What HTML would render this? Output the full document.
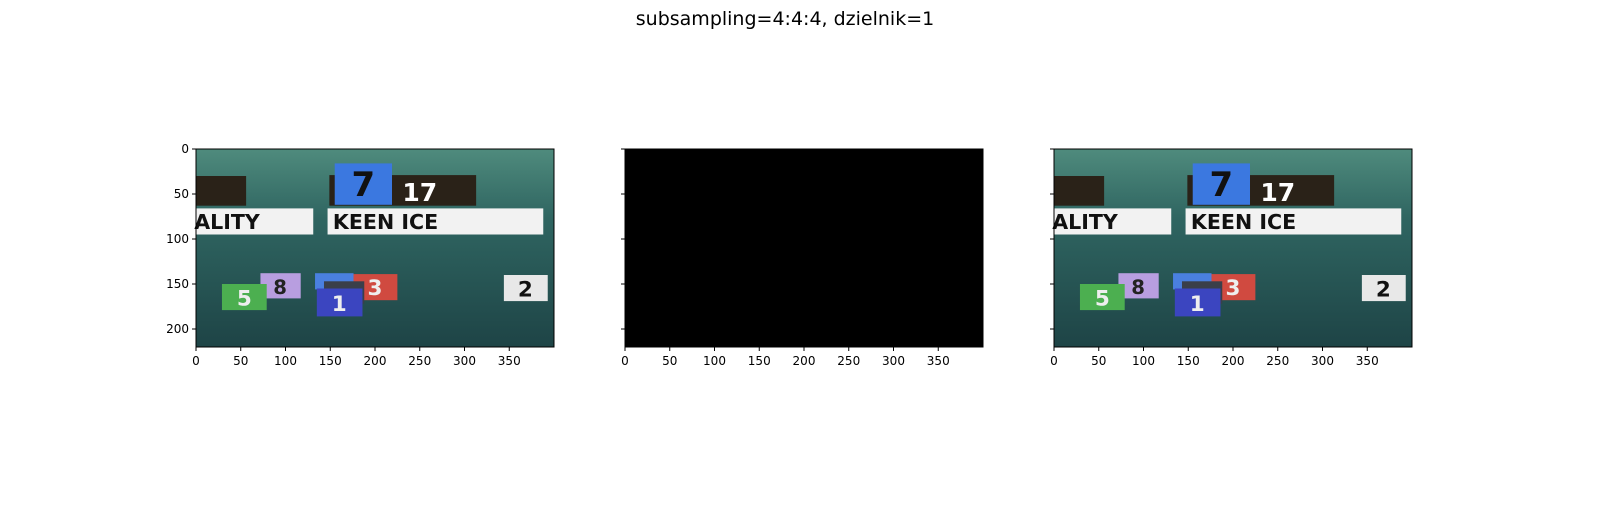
<!DOCTYPE html>
<html><head><meta charset="utf-8"><style>
body{margin:0;background:#fff;width:1600px;height:500px;overflow:hidden;font-family:"Liberation Sans","DejaVu Sans",sans-serif}
svg text{font-family:"DejaVu Sans","Liberation Sans",sans-serif}
</style></head><body>
<svg id="fig" width="1600" height="500" viewBox="0 0 1600 500" xmlns="http://www.w3.org/2000/svg">
<text x="785" y="25" text-anchor="middle" font-size="19" fill="#000">subsampling=4:4:4, dzielnik=1</text>
</svg>
<script>
const xTicks=[0,50,100,150,200,250,300,350];
const yTicks=[0,50,100,150,200];
const imgW=400, imgH=220;
const panels=[{x:196,img:true,ylab:true,name:'original'},{x:625,img:false,ylab:false,name:'difference'},{x:1054,img:true,ylab:false,name:'reconstructed'}];
const top0=149, pw=358, ph=198;
const NS='http://www.w3.org/2000/svg';
const fig=document.getElementById('fig');
const scene=`
<defs><linearGradient id="bgG" x1="0" y1="0" x2="0" y2="1"><stop offset="0" stop-color="#4f8b7d"/><stop offset="0.35" stop-color="#2f6561"/><stop offset="1" stop-color="#1e4446"/></linearGradient></defs>
<rect x="0" y="0" width="400" height="220" fill="url(#bgG)"/>
<rect x="0" y="30" width="56" height="33" fill="#2a2218"/>
<rect x="149" y="29" width="164" height="34" fill="#2a2218"/>
<rect x="155" y="16" width="64" height="46" fill="#3b78e0"/>
<text x="187" y="52" font-size="38" font-weight="bold" text-anchor="middle" fill="#111">7</text>
<text x="250" y="58" font-size="28" font-weight="bold" text-anchor="middle" fill="#fff">17</text>
<rect x="0" y="66" width="131" height="29" fill="#f2f2f2"/>
<text x="-2" y="89" font-size="23" font-weight="bold" fill="#111">ALITY</text>
<rect x="147" y="66" width="241" height="29" fill="#f2f2f2"/>
<text x="153" y="89" font-size="23" font-weight="bold" fill="#111">KEEN ICE</text>
<rect x="72" y="138" width="45" height="28" fill="#b89ee0"/>
<text x="94" y="161" font-size="22" font-weight="bold" text-anchor="middle" fill="#222">8</text>
<rect x="29" y="150" width="50" height="29" fill="#4caf50"/>
<text x="54" y="174" font-size="24" font-weight="bold" text-anchor="middle" fill="#eee">5</text>
<rect x="133" y="138" width="43" height="18" fill="#4a80e0"/>
<rect x="176" y="139" width="49" height="29" fill="#d04a40"/>
<text x="200" y="162" font-size="24" font-weight="bold" text-anchor="middle" fill="#eee">3</text>
<rect x="143" y="147" width="45" height="25" fill="#3a3f4a"/>
<rect x="135" y="155" width="51" height="31" fill="#3b45c0"/>
<text x="160" y="180" font-size="24" font-weight="bold" text-anchor="middle" fill="#eee">1</text>
<rect x="344" y="140" width="49" height="29" fill="#e8e8e8"/>
<text x="368" y="164" font-size="24" font-weight="bold" text-anchor="middle" fill="#111">2</text>`;
function mk(tag,attrs,parent){const e=document.createElementNS(NS,tag);for(const k in attrs)e.setAttribute(k,attrs[k]);parent.appendChild(e);return e;}
const sx=pw/imgW, sy=ph/imgH;
panels.forEach((p,i)=>{
  const g=mk('g',{},fig);
  
  
  const img=mk('g',{transform:`translate(${p.x},${top0}) scale(${sx},${sy})`},g);
  
  
  if(p.img){img.innerHTML=scene.replace(/bgG/g,'bgG'+i);}
  else{mk('rect',{x:0,y:0,width:imgW,height:imgH,fill:'#000'},img);}
  const fr=mk('rect',{x:p.x,y:top0,width:pw,height:ph,fill:'none',stroke:'#000','stroke-width':1},g);
  
  
  xTicks.forEach(t=>{
    const X=p.x+t*sx;
    mk('line',{x1:X,x2:X,y1:top0+ph,y2:top0+ph+4,stroke:'#000'},g);
    const tx=mk('text',{x:X,y:top0+ph+18,'font-size':12,'text-anchor':'middle',fill:'#000'},g);
    
    
    tx.textContent=t;
  });
  yTicks.forEach(t=>{
    const Y=top0+t*sy;
    mk('line',{x1:p.x-4,x2:p.x,y1:Y,y2:Y,stroke:'#000'},g);
    if(p.ylab){
      const tx=mk('text',{x:p.x-7,y:Y+4,'font-size':12,'text-anchor':'end',fill:'#000'},g);
      
      
      tx.textContent=t;
    }
  });
});
</script>
</body></html>
